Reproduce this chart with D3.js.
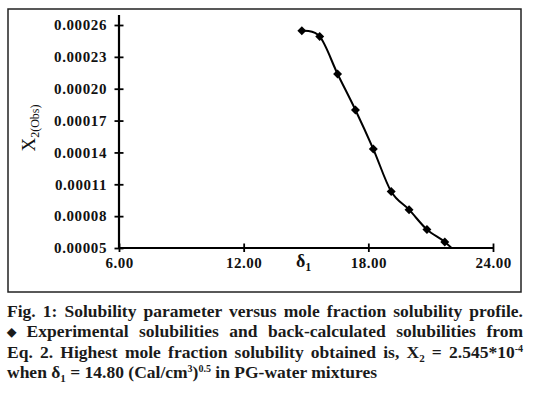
<!DOCTYPE html>
<html>
<head>
<meta charset="utf-8">
<script src="https://cdn.jsdelivr.net/npm/d3@7"></script>
<style>
html,body{margin:0;padding:0;background:#fff;}
svg{display:block;}
</style>
</head>
<body>
<svg id="chart" width="544" height="394"></svg>
<script>
// ---- data ----
const delta1 = [14.80, 15.66, 16.52, 17.38, 18.24, 19.10, 19.96, 20.82, 21.68, 22.54];
const x2Obs = [0.0002545, 0.0002492, 0.0002139, 0.0001800, 0.0001432, 0.0001032, 0.0000861, 0.0000674, 0.0000557, 0.0000400];
const xTicks = [6, 12, 18, 24];
const xTickLabels = ["6.00", "12.00", "18.00", "24.00"];
const yTicks = [0.00005, 0.00008, 0.00011, 0.00014, 0.00017, 0.00020, 0.00023, 0.00026];
const yTickLabels = ["0.00005", "0.00008", "0.00011", "0.00014", "0.00017", "0.00020", "0.00023", "0.00026"];
const captionLines = [
  [{t:"Fig. 1: Solubility parameter versus mole fraction solubility profile."}],
  [{t:"\u25C6",small:true},{t:" Experimental solubilities and back-calculated solubilities from"}],
  [{t:"Eq. 2. Highest mole fraction solubility obtained is, X"},{t:"2",sub:true},{t:" = 2.545*10"},{t:"-4",sup:true}],
  [{t:"when \u03B4"},{t:"1",sub:true},{t:" = 14.80 (Cal/cm"},{t:"3",sup:true},{t:")"},{t:"0.5",sup:true},{t:" in PG-water mixtures"}]
];
const captionJustify = [true, true, true, false];

// ---- drawing ----
const svg = d3.select("#chart");
const x = d3.scaleLinear().domain([6, 24]).range([119, 493]);
const y = d3.scaleLinear().domain([0.00005, 0.00026]).range([248, 25]);

// frame
svg.append("rect").attr("x", 8).attr("y", 9).attr("width", 513).attr("height", 283)
  .attr("fill", "none").attr("stroke", "#222").attr("stroke-width", 1.5);

const serif = "'Liberation Serif','Times New Roman',serif";

// y axis
const yAxis = d3.axisLeft(y).tickValues(yTicks).tickFormat((d, i) => yTickLabels[i]).tickSize(4).tickPadding(8);
const gy = svg.append("g").attr("transform", `translate(${x.range()[0]},0)`).call(yAxis);
gy.select(".domain").remove();
gy.selectAll(".tick line").attr("x1", -4.5).attr("x2", 4.5).attr("stroke", "#000").attr("stroke-width", 1.8);
gy.selectAll(".tick text").attr("font-family", serif).attr("font-weight", "bold").attr("font-size", 15)
  .attr("letter-spacing", "0.6px").attr("fill", "#111").attr("x", -12);
svg.append("line").attr("x1", x.range()[0]).attr("x2", x.range()[0]).attr("y1", 15).attr("y2", y.range()[0])
  .attr("stroke", "#000").attr("stroke-width", 2.2);

// x axis
const xAxis = d3.axisBottom(x).tickValues(xTicks).tickFormat((d, i) => xTickLabels[i]).tickSize(4).tickPadding(6);
const gx = svg.append("g").attr("transform", `translate(0,${y.range()[0]})`).call(xAxis);
gx.select(".domain").remove();
gx.selectAll(".tick line").attr("y1", -4.5).attr("y2", 4).attr("stroke", "#000").attr("stroke-width", 1.8);
gx.selectAll(".tick text").attr("font-family", serif).attr("font-weight", "bold").attr("font-size", 15)
  .attr("letter-spacing", "0.5px").attr("fill", "#111").attr("y", 20).attr("dy", 0);
svg.append("line").attr("x1", x.range()[0]).attr("x2", x.range()[1]).attr("y1", y.range()[0]).attr("y2", y.range()[0])
  .attr("stroke", "#000").attr("stroke-width", 2.2);

// axis titles
const xt = svg.append("text").attr("x", 296).attr("y", 267).attr("font-family", serif).attr("font-weight", "bold")
  .attr("font-size", 18).attr("fill", "#111");
xt.append("tspan").text("\u03B4");
xt.append("tspan").attr("font-size", 12).attr("dy", 4).text("1");

const yt = svg.append("text").attr("transform", "translate(35,128) rotate(-90)").attr("text-anchor", "middle")
  .attr("font-family", serif).attr("font-size", 19).attr("fill", "#111");
yt.append("tspan").text("X");
yt.append("tspan").attr("font-size", 12).attr("dy", 4).text("2(Obs)");

// line + markers
svg.append("clipPath").attr("id", "plotclip").append("rect")
  .attr("x", x.range()[0]).attr("y", 10).attr("width", x.range()[1] - x.range()[0] + 10).attr("height", y.range()[0] - 10);
const pts = delta1.map((d, i) => [d, x2Obs[i]]);
const line = d3.line().x(d => x(d[0])).y(d => y(d[1])).curve(d3.curveCardinal.tension(0));
const plot = svg.append("g").attr("clip-path", "url(#plotclip)");
plot.append("path").datum(pts).attr("d", line).attr("fill", "none").attr("stroke", "#000").attr("stroke-width", 2);
const sym = d3.symbol().type(d3.symbolSquare).size(40);
svg.append("g").selectAll("path").data(pts.filter(p => p[1] >= 0.00005)).join("path")
  .attr("d", sym).attr("transform", d => `translate(${x(d[0])},${y(d[1])}) rotate(45)`).attr("fill", "#000");

// caption
const capX = 7, capRight = 523, capBase = 317, capLead = 20.3;
captionLines.forEach((segs, li) => {
  const t = svg.append("text").attr("x", capX).attr("y", capBase + li * capLead)
    .attr("font-family", serif).attr("font-weight", "bold").attr("font-size", 17.5).attr("fill", "#1a1a1a")
    .style("white-space", "pre");
  let shift = 0; // current baseline offset
  segs.forEach(s => {
    const target = s.sub ? 4 : (s.sup ? -6 : (s.small ? -1 : 0));
    const sp = t.append("tspan").attr("dy", target - shift).text(s.t);
    shift = target;
    if (s.sub) sp.attr("font-size", 11);
    if (s.sup) sp.attr("font-size", 10);
    if (s.small) sp.attr("font-size", 12);
  });
  if (captionJustify[li]) {
    const natural = t.node().getComputedTextLength();
    const full = segs.map(s => s.t).join("");
    const nSpaces = (full.match(/ /g) || []).length;
    const ws = (capRight - capX - natural) / nSpaces;
    t.style("word-spacing", ws + "px");
    const after = t.node().getComputedTextLength();
    if (Math.abs(after - (capRight - capX)) > 3) {
      t.style("word-spacing", null).attr("textLength", capRight - capX).attr("lengthAdjust", "spacing");
    }
  }
});
</script>
</body>
</html>
